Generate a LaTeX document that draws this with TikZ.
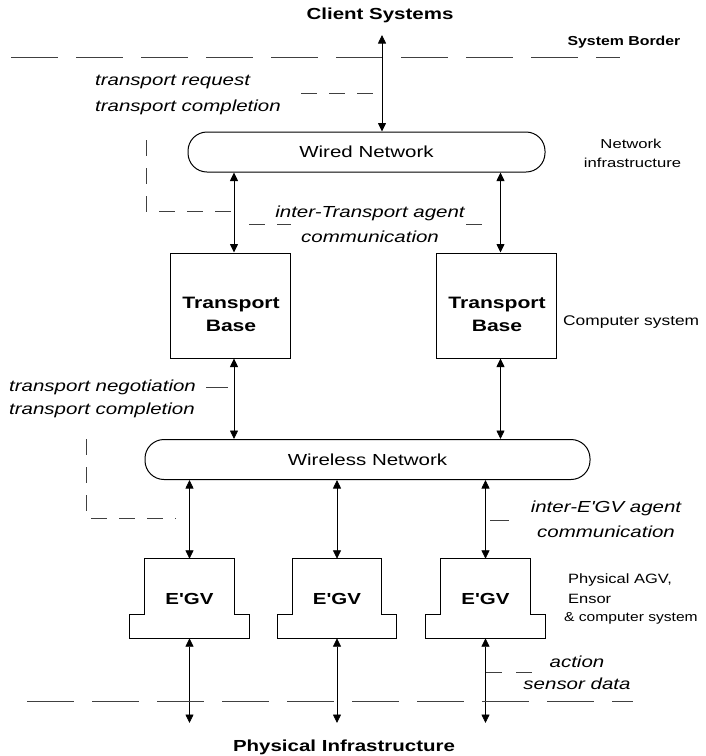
\documentclass[tikz,border=0pt]{standalone}
\usepackage{fontspec}
\setmainfont{Liberation Sans}
\usetikzlibrary{arrows.meta,calc}

% text in this figure is set slightly wide
\newcommand\stretchx[1]{\scalebox{1.28}[1]{#1}}

% stepped outline of a vehicle block: narrow cabin on a wider base
\newcommand\egvoutline[1]{%
  \draw[box] ($(#1.north west)+(15,0)$) -- ($(#1.north east)+(-15,0)$)
    -- ($(#1.north east)+(-15,56)$) -- ($(#1.north east)+(0,56)$)
    -- (#1.south east) -- (#1.south west)
    -- ($(#1.north west)+(0,56)$) -- ($(#1.north west)+(15,56)$) -- cycle;}

\begin{document}
\begin{tikzpicture}[x=1pt,y=-1pt,
  link/.style={{Triangle[length=8.5pt,width=8pt]}-{Triangle[length=8.5pt,width=8pt]}, line width=0.8pt},
  border/.style={dash pattern=on 47pt off 18pt, line width=1pt, black!75},
  guide/.style={dash pattern=on 16pt off 12pt, line width=0.8pt, black!75},
  box/.style={draw, line width=1pt},
  net/.style={draw, line width=1pt, rounded corners=19pt, minimum height=40pt,
              font=\fontsize{16}{19}\selectfont},
  ital/.style={inner sep=0pt, font=\fontsize{16}{19}\selectfont\itshape},
  note/.style={inner sep=0pt, font=\fontsize{13.5}{16}\selectfont},
  head/.style={inner sep=0pt, font=\fontsize{16}{19}\selectfont\bfseries},
]
\useasboundingbox (0,0) rectangle (706,756);

% ---- system border and clients
\node[head] (client) at (380,15) {\stretchx{Client Systems}};
\node[inner sep=0pt, font=\fontsize{13}{15}\selectfont\bfseries] (sysborder) at (624,42) {\scalebox{1.22}[1]{System Border}};
\coordinate (bl) at (11,57);
\coordinate (br) at (620,57);
\draw[border] (bl) -- (br);

% ---- wired network
\node[net, minimum width=357pt] (wired) at (366.5,152) {\stretchx{Wired Network}};
\node[inner sep=0pt, font=\fontsize{13}{16}\selectfont] (netinfa) at (631,144) {\stretchx{Network}};
\node[inner sep=0pt, font=\fontsize{13}{16}\selectfont] (netinfb) at (632.5,163) {\stretchx{infrastructure}};

\coordinate (ct) at (382,35);
\draw[link] (ct) -- (ct |- wired.north);
\node[ital, anchor=west] (treq) at (95,82) {\stretchx{transport request}};
\node[ital, anchor=west] (tcomp) at (95,107) {\stretchx{transport completion}};
\draw[guide] (301,93) -- (373,93);

% ---- transport bases
\node[box, minimum width=120pt, minimum height=105pt] (tb1) at (230,305.5) {};
\node[box, minimum width=120pt, minimum height=105pt] (tb2) at (496.5,305.5) {};
\node[inner sep=0pt, align=center, font=\fontsize{16.5}{23}\selectfont\bfseries] (tb1t) at (231,314.5) {\stretchx{Transport}\\\stretchx{Base}};
\node[inner sep=0pt, align=center, font=\fontsize{16.5}{23}\selectfont\bfseries] (tb2t) at (497,314.5) {\stretchx{Transport}\\\stretchx{Base}};
\node[note, anchor=west, font=\fontsize{14}{16}\selectfont] (compsys) at (563,322) {\scalebox{1.24}[1]{Computer system}};

\coordinate (a1) at ($(tb1.north)+(4,0)$);
\coordinate (a2) at ($(tb2.north)+(4,0)$);
\draw[link] (a1 |- wired.south) -- (a1);
\draw[link] (a2 |- wired.south) -- (a2);

\draw[guide] (146,140) -- (146,211) -- (233,211);
\draw[guide] (249,224) -- (291,224);
\draw[guide] (466,224) -- (491,224);
\node[ital] (itaa) at (370,213) {\stretchx{inter-Transport agent}};
\node[ital] (itab) at (370,237) {\stretchx{communication}};

% ---- wireless network
\node[net, minimum width=445pt] (wireless) at (367.5,459.5) {\stretchx{Wireless Network}};

\coordinate (b1) at ($(tb1.south)+(4,0)$);
\coordinate (b2) at ($(tb2.south)+(4,0)$);
\draw[link] (b1) -- (b1 |- wireless.north);
\draw[link] (b2) -- (b2 |- wireless.north);

\node[ital, anchor=west] (tneg) at (9,387) {\stretchx{transport negotiation}};
\node[ital, anchor=west] (tcomp2) at (9,410) {\stretchx{transport completion}};
\draw[line width=0.8pt, black!75] (206,387) -- (228,387);

\draw[guide] (86,439) -- (86,518) -- (176,518);

% ---- vehicles
\node[minimum width=119pt, minimum height=79pt, inner sep=0pt] (e1) at (189.5,598.5) {};
\node[minimum width=119pt, minimum height=79pt, inner sep=0pt] (e2) at (337,598.5) {};
\node[minimum width=119pt, minimum height=79pt, inner sep=0pt] (e3) at (485.5,598.5) {};
\egvoutline{e1}
\egvoutline{e2}
\egvoutline{e3}
\node[head] (e1t) at (e1.center) {\stretchx{E\textquotesingle GV}};
\node[head] (e2t) at (e2.center) {\stretchx{E\textquotesingle GV}};
\node[head] (e3t) at (e3.center) {\stretchx{E\textquotesingle GV}};

\draw[link] (e1.north |- wireless.south) -- (e1.north);
\draw[link] (e2.north |- wireless.south) -- (e2.north);
\draw[link] (e3.north |- wireless.south) -- (e3.north);

\draw[line width=0.8pt, black!75] (490,520) -- (509,520);
\node[ital] (ieaa) at (606,508) {\stretchx{inter-E\textquotesingle GV agent}};
\node[ital] (ieab) at (606,532) {\stretchx{communication}};

\node[note, anchor=west] (pagv) at (568,580) {\scalebox{1.22}[1]{Physical AGV,}};
\node[note, anchor=west] (ensor) at (568,599) {\scalebox{1.22}[1]{Ensor}};
\node[note, anchor=west, font=\fontsize{13}{16}\selectfont] (csys) at (564,618) {\scalebox{1.2}[1]{\& computer system}};

% ---- physical infrastructure
\coordinate (p1) at (e1.south |- 0,723);
\coordinate (p2) at (e2.south |- 0,723);
\coordinate (p3) at (e3.south |- 0,723);
\draw[link] (e1.south) -- (p1);
\draw[link] (e2.south) -- (p2);
\draw[link] (e3.south) -- (p3);

\coordinate (ql) at (27,701);
\coordinate (qr) at (633,701);
\draw[border] (ql) -- (qr);

\draw[guide, dash pattern=on 16pt off 14pt] (486,672) -- (532,672);
\node[ital] (act) at (577,662) {\stretchx{action}};
\node[ital] (sens) at (577,684) {\stretchx{sensor data}};

\node[head] (phys) at (344,747) {\stretchx{Physical Infrastructure}};
\end{tikzpicture}
\end{document}
